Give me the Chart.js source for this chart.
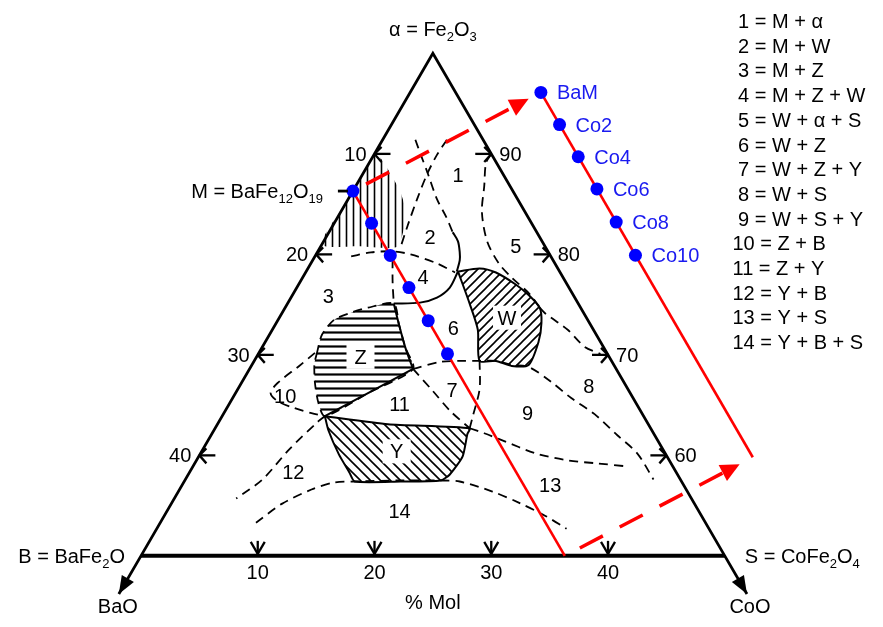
<!DOCTYPE html>
<html><head><meta charset="utf-8">
<script src="https://cdn.jsdelivr.net/npm/chart.js@4/dist/chart.umd.min.js"></script>
<style>html,body{margin:0;padding:0;background:#fff;overflow:hidden}canvas{display:block}</style>
</head><body>
<canvas id="c" width="883" height="627"></canvas>
<script>
// ===== DATA (compositions as [CoO mol%, BaO mol%]; Fe2O3 = 100 - CoO - BaO) =====
const apexPt = [0, 0];      // alpha = Fe2O3
const bPt = [0, 50];        // B = BaFe2O4
const sPt = [50, 0];        // S = CoFe2O4
const baoExtPt = [0, 53.8];
const cooExtPt = [53.8, 0];

const axisTickValues = [10, 20, 30, 40];
const leftTickLabels = ['10', '20', '30', '40'];     // BaO %
const rightTickLabels = ['90', '80', '70', '60'];    // Fe2O3 %
const bottomTickLabels = ['10', '20', '30', '40'];   // CoO %

const bamNames = ['BaM', 'Co2', 'Co4', 'Co6', 'Co8', 'Co10'];
const bamCoO = [0, 3.2, 6.4, 9.6, 12.9, 16.2];
const bamBaO = 13.7;
const bamLineEndCoO = 36.3;

// single phase fields
const phaseM = [[0,9.9],[0,14.5],[0,19.0],[3.4,15.8],[6.5,12.8],[6.4,11.6],[5.7,10.3],[4.2,9.7],[2.3,9.6],[0.5,9.7]];
const phaseW = [[13.0,8.7],[14.7,6.7],[16.3,5.5],[18.6,4.4],[20.3,3.8],[21.8,3.5],[22.7,4.1],[23.4,5.3],[23.7,7.3],[22.3,8.8],[20.7,9.9],[19.3,11.3],[17.6,9.9],[15.6,9.3]];
const phaseZ = [[5.0,24.9],[4.5,23.5],[4.8,21.7],[5.9,19.9],[7.1,18.2],[9.1,15.8],[10.6,16.4],[12.3,17.0],[14.0,17.4],[11.4,22.35],[8.8,27.3],[7.6,27.2],[6.3,26.5],[5.3,25.6]];
const phaseY = [[8.8,27.3],[14.6,22.3],[21.8,15.5],[21.9,16.0],[22.6,17.5],[22.4,19.5],[21.9,20.6],[18.5,24.1],[14.6,28.0],[13.7,28.0],[11.9,28.0],[9.8,27.7]];

// dashed boundaries
const dashedBounds = [
  [[2.8,5.8],[4.1,6.1],[5.5,6.4],[7.6,6.9],[9.3,7.0],[10.6,7.2]],
  [[5.5,3.1],[5.4,4.7],[5.5,6.4],[5.9,8.6],[6.4,10.7],[6.9,12.5]],
  [[10,0],[10.0,0.9],[11.0,2.2],[12.1,3.7],[14.0,4.7],[16.1,4.8],[17.9,4.4],[20.2,3.7],[21.8,3.5]],
  [[21.8,3.5],[22.6,3.3],[25.3,2.2],[27.6,1.6],[29.3,0.6]],
  [[3.1,17.1],[4.6,15.2],[6.4,13.3],[8.1,11.9],[10.8,10.1],[12.8,9.0]],
  [[6.8,13.7],[7.9,14.8],[9.1,15.8]],
  [[14.0,17.4],[16.0,14.7],[17.6,13.0],[19.3,11.3],[20.7,9.9],[22.3,8.7],[23.8,7.4],[26.5,6.2],[29.0,5.3],[31.8,4.1],[34.8,3.2],[37.4,2.4],[40.1,2.3]],
  [[21.8,15.5],[23.3,14.5],[25.2,13.3],[28.7,11.1],[31.8,8.7],[34.5,6.3],[37.2,3.9]],
  [[19.3,11.3],[20.7,12.7],[21.5,14.7],[21.8,15.5]],
  [[14.0,17.4],[16.8,16.8],[19.3,16.3],[21.8,15.5]],
  [[8.2,38.5],[9.5,35.3],[11.3,32.1],[12.9,29.8],[14.6,28.0],[18.2,24.3],[21.9,20.6],[23.6,19.0],[26.9,16.7],[29.7,15.0],[32.6,13.4],[35.1,12.2]],
  [[8.8,27.3],[8.5,28.1],[7.4,32.0],[6.6,35.8],[5.3,39.0]],
  [[4.8,25.0],[4.1,27.0],[3.1,29.7],[3.0,30.8],[4.0,30.6],[5.8,29.5],[7.5,28.3],[8.8,27.3]]
];
// solid boundaries
const solidBounds = [
  [[10.6,7.2],[11.5,7.2],[12.2,7.6],[12.6,8.0],[12.9,8.8]],
  [[9.1,15.8],[11.3,13.5],[12.5,11.8],[13.1,10.2],[13.0,8.7]],
  [[9.1,15.8],[10.6,16.4],[12.3,17.0],[14.0,17.4]],
  [[14.0,17.4],[8.8,27.3]]
];

const regionNames = ['1','2','3','4','5','6','7','8','9','10','11','12','13','14','Z','W','Y'];
const regionAt = [[8.2,3.9],[8.9,9.4],[3.1,21.0],[10.3,12.0],[16.7,2.5],[15.4,11.9],[18.4,15.1],[29.9,3.2],[26.0,9.8],[4.4,29.7],[14.6,20.3],[8.9,32.8],[31.5,11.4],[19.9,25.6],[8.9,21.3],[19.5,6.8],[16.7,22.9]];
const boxedRegions = ['Z','W','Y'];

const legendNums = [1,2,3,4,5,6,7,8,9,10,11,12,13,14];
const legendPhases = ['M + α','M + W','M + Z','M + Z + W','W + α + S','W + Z','W + Z + Y','W + S','W + S + Y','Z + B','Z + Y','Y + B','Y + S','Y + B + S'];

const topLabel = 'α = Fe_2O_3';
const mLabel = 'M = BaFe_{12}O_{19}';
const bLabel = 'B = BaFe_2O';
const sLabel = 'S = CoFe_2O_4';
const baoLabel = 'BaO';
const cooLabel = 'CoO';
const axisTitle = '% Mol';

// ===== helpers =====
const H = Math.sqrt(3) / 2;
function toXY(p) { const fe = 100 - p[0] - p[1]; return { x: p[0] + (fe - 50) / 2, y: (fe - 50) * H }; }
const copyShift = { x: 16.1, y: 8.5 };   // display offset of the copied composition line
const shifted = (q) => ({ x: q.x + copyShift.x, y: q.y + copyShift.y });
const lerp = (a, b, t) => ({ x: a.x + (b.x - a.x) * t, y: a.y + (b.y - a.y) * t });
const FONT = '"Liberation Sans", Arial, Helvetica, sans-serif';
const FS = 20;

function pattern(kind) {
  const s = (kind === 'v' || kind === 'h') ? 7 : (kind === '/' ? 9 : 10);
  const c = document.createElement('canvas'); c.width = s; c.height = s;
  const g = c.getContext('2d');
  g.strokeStyle = '#000'; g.lineWidth = kind === 'h' ? 2.2 : 1.6;
  g.beginPath();
  if (kind === 'v') { g.moveTo(s / 2, 0); g.lineTo(s / 2, s); }
  else if (kind === 'h') { g.moveTo(0, s / 2); g.lineTo(s, s / 2); }
  else if (kind === '/') { g.moveTo(-1, 1); g.lineTo(1, -1); g.moveTo(0, s); g.lineTo(s, 0); g.moveTo(s - 1, s + 1); g.lineTo(s + 1, s - 1); }
  else { g.moveTo(-1, s - 1); g.lineTo(1, s + 1); g.moveTo(0, 0); g.lineTo(s, s); g.moveTo(s - 1, -1); g.lineTo(s + 1, 1); }
  g.stroke();
  return g.createPattern(c, 'repeat');
}

function richText(ctx, str, x, y, align, size, color) {
  const parts = []; const re = /_\{([^}]*)\}|_(.)/g; let last = 0, m;
  while ((m = re.exec(str))) {
    if (m.index > last) parts.push({ t: str.slice(last, m.index), sub: false });
    parts.push({ t: m[1] || m[2], sub: true }); last = re.lastIndex;
  }
  if (last < str.length) parts.push({ t: str.slice(last), sub: false });
  const main = size + 'px ' + FONT, sub = Math.round(size * 0.65) + 'px ' + FONT;
  let w = 0;
  parts.forEach(p => { ctx.font = p.sub ? sub : main; p.w = ctx.measureText(p.t).width; w += p.w; });
  let cx = align === 'center' ? x - w / 2 : (align === 'right' ? x - w : x);
  ctx.fillStyle = color || '#000'; ctx.textAlign = 'left'; ctx.textBaseline = 'alphabetic';
  parts.forEach(p => { ctx.font = p.sub ? sub : main; ctx.fillText(p.t, cx, y + (p.sub ? size * 0.25 : 0)); cx += p.w; });
  return w;
}

// ===== datasets =====
const base = { showLine: true, pointRadius: 0, pointHoverRadius: 0, fill: false, tension: 0, clip: false };
const DASH = [9, 6];
const datasets = [];
const closed = (pts) => pts.concat([pts[0]]).map(toXY);

datasets.push(Object.assign({}, base, { data: closed(phaseM), fill: 'shape', backgroundColor: pattern('v'), borderColor: 'rgba(0,0,0,0)', borderWidth: 1, tension: 0.25, order: 30 }));
datasets.push(Object.assign({}, base, { data: closed(phaseW), fill: 'shape', backgroundColor: pattern('/'), borderColor: '#000', borderWidth: 2, tension: 0.25, order: 30 }));
datasets.push(Object.assign({}, base, { data: closed(phaseZ), fill: 'shape', backgroundColor: pattern('h'), borderColor: '#000', borderWidth: 1.8, borderDash: DASH, tension: 0.25, order: 30 }));
datasets.push(Object.assign({}, base, { data: closed(phaseY), fill: 'shape', backgroundColor: pattern('\\'), borderColor: '#000', borderWidth: 2, tension: 0.2, order: 30 }));

dashedBounds.forEach(b => datasets.push(Object.assign({}, base, { data: b.map(toXY), borderColor: '#000', borderWidth: 1.8, borderDash: DASH, tension: 0.3, order: 20 })));
solidBounds.forEach(b => datasets.push(Object.assign({}, base, { data: b.map(toXY), borderColor: '#000', borderWidth: 2, tension: 0.3, order: 20 })));

// triangle frame with the extensions to BaO and CoO
datasets.push(Object.assign({}, base, { data: [baoExtPt, bPt, apexPt, sPt, cooExtPt].map(toXY), borderColor: '#000', borderWidth: 2.8, order: 10 }));
datasets.push(Object.assign({}, base, { data: [bPt, sPt].map(toXY), borderColor: '#000', borderWidth: 4, order: 10 }));

// composition line (original and shifted copy)
const lineEnds = [[0, bamBaO], [bamLineEndCoO, bamBaO]].map(toXY);
datasets.push(Object.assign({}, base, { data: lineEnds, borderColor: '#ff0000', borderWidth: 2.6, order: 5 }));
datasets.push(Object.assign({}, base, { data: lineEnds.map(shifted), borderColor: '#ff0000', borderWidth: 2.6, order: 5 }));

// dashed red arrows linking line and copy
const arrowTop = [lerp(lineEnds[0], shifted(lineEnds[0]), 0.07), lerp(lineEnds[0], shifted(lineEnds[0]), 0.90)];
const arrowBot = [lerp(lineEnds[1], shifted(lineEnds[1]), 0.08), lerp(lineEnds[1], shifted(lineEnds[1]), 0.89)];
const arrowTips = [lerp(lineEnds[0], shifted(lineEnds[0]), 0.935), lerp(lineEnds[1], shifted(lineEnds[1]), 0.93)];
datasets.push(Object.assign({}, base, { data: arrowTop, borderColor: '#ff0000', borderWidth: 3.5, borderDash: [26, 19], order: 5 }));
datasets.push(Object.assign({}, base, { data: arrowBot, borderColor: '#ff0000', borderWidth: 3.5, borderDash: [26, 19], order: 5 }));

// sample points
const bamXY = bamCoO.map(c => toXY([c, bamBaO]));
datasets.push({ data: bamXY, showLine: false, pointRadius: 6.5, pointHoverRadius: 6.5, pointBackgroundColor: '#0000ff', pointBorderColor: '#0000ff', pointBorderWidth: 0, order: 1, clip: false });
datasets.push({ data: bamXY.map(shifted), showLine: false, pointRadius: 6.5, pointHoverRadius: 6.5, pointBackgroundColor: '#0000ff', pointBorderColor: '#0000ff', pointBorderWidth: 0, order: 1, clip: false });

// ===== decorations drawn through the scales =====
const decor = {
  id: 'decor',
  afterDatasetsDraw(chart) {
    const ctx = chart.ctx, xs = chart.scales.x, ys = chart.scales.y;
    const PX = q => ({ x: xs.getPixelForValue(q.x), y: ys.getPixelForValue(q.y) });
    const P = c => PX(toXY(c));
    const seg = (a, b, c, d) => { ctx.beginPath(); ctx.moveTo(a, b); ctx.lineTo(c, d); ctx.stroke(); };
    const head = (tip, from, len, hw, color) => {
      const dx = tip.x - from.x, dy = tip.y - from.y, L = Math.hypot(dx, dy), ux = dx / L, uy = dy / L;
      const bx = tip.x - ux * len, by = tip.y - uy * len;
      ctx.fillStyle = color; ctx.beginPath(); ctx.moveTo(tip.x, tip.y);
      ctx.lineTo(bx - uy * hw, by + ux * hw); ctx.lineTo(bx + uy * hw, by - ux * hw); ctx.closePath(); ctx.fill();
    };
    ctx.save();
    // tick arrows
    ctx.strokeStyle = '#000'; ctx.lineWidth = 2.3; ctx.lineCap = 'butt';
    axisTickValues.forEach((t, i) => {
      const l = P([0, t]);
      seg(l.x, l.y, l.x + 16, l.y); seg(l.x, l.y, l.x + 7, l.y - 7); seg(l.x, l.y, l.x + 7, l.y + 8);
      richText(ctx, leftTickLabels[i], l.x - 8, l.y + 7, 'right', FS);
      const r = P([t, 0]);
      seg(r.x, r.y, r.x - 16, r.y); seg(r.x, r.y, r.x - 7, r.y - 7); seg(r.x, r.y, r.x - 7, r.y + 8);
      richText(ctx, rightTickLabels[i], r.x + 8, r.y + 7, 'left', FS);
      const b = P([t, 50 - t]);
      seg(b.x, b.y - 2, b.x, b.y - 15); seg(b.x, b.y - 2, b.x - 7, b.y - 14); seg(b.x, b.y - 2, b.x + 7, b.y - 14);
      richText(ctx, bottomTickLabels[i], b.x, b.y + 23, 'center', FS);
    });
    // small tick at M
    const mP = PX(bamXY[0]);
    ctx.lineWidth = 2.8; seg(mP.x - 15, mP.y, mP.x - 5, mP.y);
    // arrowheads
    head(P(baoExtPt), P(bPt), 18, 7, '#000');
    head(P(cooExtPt), P(sPt), 18, 7, '#000');
    head(PX(arrowTips[0]), PX(arrowTop[0]), 19, 9, '#ff0000');
    head(PX(arrowTips[1]), PX(arrowBot[0]), 19, 9, '#ff0000');
    // vertex / axis labels
    const ap = P(apexPt), bp = P(bPt), sp = P(sPt);
    richText(ctx, topLabel, ap.x, ap.y - 17, 'center', FS);
    richText(ctx, mLabel, mP.x - 30, mP.y + 7, 'right', FS);
    richText(ctx, bLabel, bp.x - 16, bp.y + 7, 'right', FS);
    richText(ctx, sLabel, sp.x + 20, sp.y + 7, 'left', FS);
    const be = P(baoExtPt), ce = P(cooExtPt);
    richText(ctx, baoLabel, be.x - 1, be.y + 19, 'center', FS);
    richText(ctx, cooLabel, ce.x + 3, ce.y + 19, 'center', FS);
    richText(ctx, axisTitle, (bp.x + sp.x) / 2, bp.y + 53, 'center', FS);
    // region labels
    regionNames.forEach((n, i) => {
      const p = P(regionAt[i]);
      if (boxedRegions.includes(n)) { ctx.fillStyle = '#fff'; ctx.fillRect(p.x - 14, p.y - 12, 28, 24); }
      richText(ctx, n, p.x, p.y + 7, 'center', FS);
    });
    // sample names on the shifted line
    bamXY.map(shifted).forEach((q, i) => {
      const p = PX(q);
      richText(ctx, bamNames[i], p.x + 16, p.y + 7, 'left', FS, '#1a1af0');
    });
    // legend of two/three-phase fields
    const lx = chart.chartArea.right - 144, ly = 28, step = 24.7;
    ctx.font = FS + 'px ' + FONT;
    const spaceW = ctx.measureText(' ').width;
    legendNums.forEach((n, i) => {
      richText(ctx, n + ' = ' + legendPhases[i], lx + (n < 10 ? spaceW : 0), ly + i * step, 'left', FS);
    });
    ctx.restore();
  }
};

const sx = 11.85;   // px per ternary unit (for axis range set-up)
new Chart(document.getElementById('c').getContext('2d'), {
  type: 'scatter',
  data: { datasets },
  options: {
    responsive: false, animation: false, devicePixelRatio: 1,
    layout: { padding: 0 },
    events: [],
    plugins: { legend: { display: false }, tooltip: { enabled: false } },
    scales: {
      x: { type: 'linear', display: false, min: -136.5 / sx, max: (883 - 136.5) / sx },
      y: { type: 'linear', display: false, min: -66 / sx, max: 561 / sx }
    }
  },
  plugins: [decor]
});
</script>
</body></html>
